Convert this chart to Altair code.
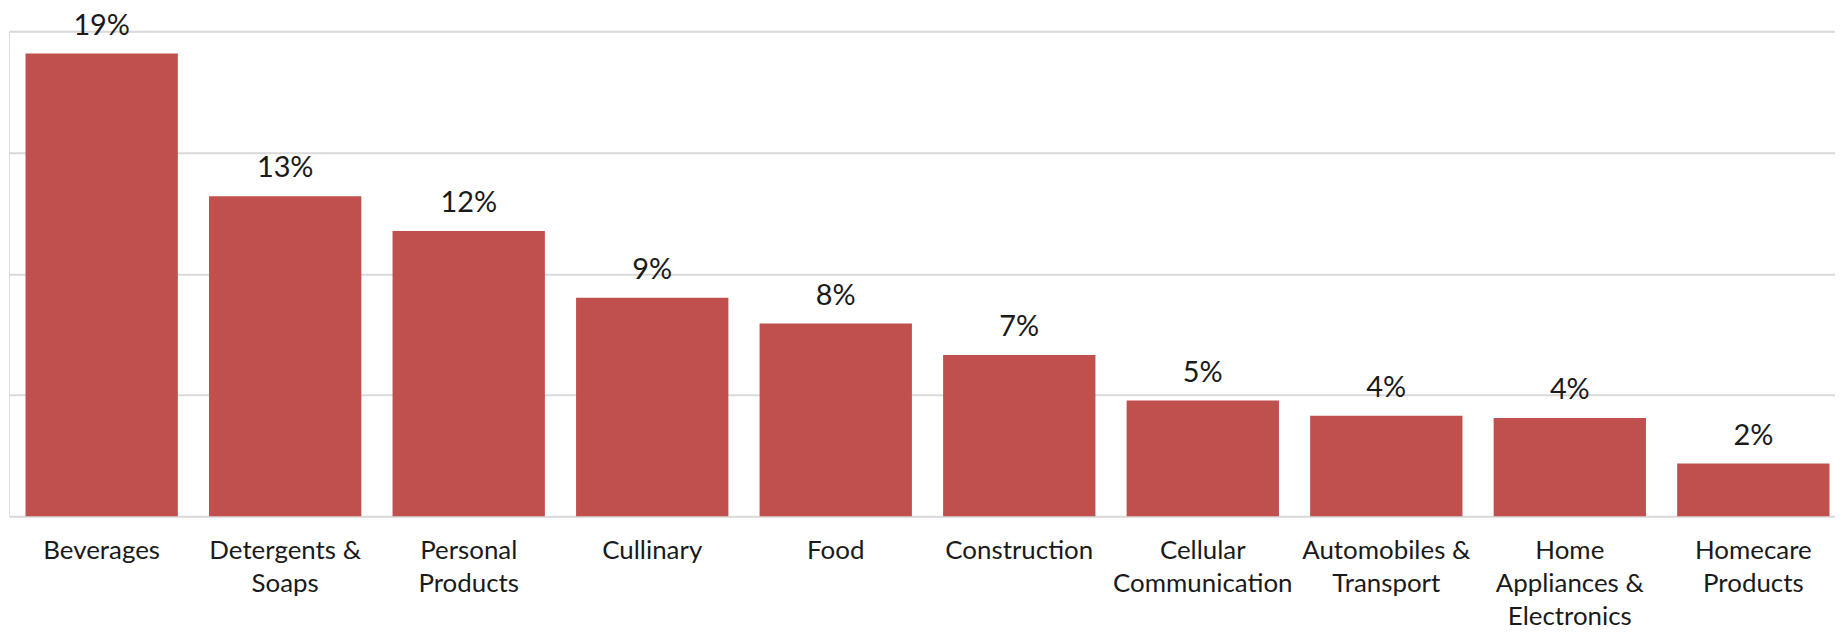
import altair as alt
import pandas as pd

categories = ["Beverages", "Detergents &|Soaps", "Personal|Products", "Cullinary", "Food",
              "Construction", "Cellular|Communication", "Automobiles &|Transport",
              "Home|Appliances &|Electronics", "Homecare|Products"]
shares = [0.1908, 0.1320, 0.1176, 0.0901, 0.0795, 0.0665, 0.0477, 0.0414, 0.0405, 0.0217]
grid_values = [0, 0.05, 0.10, 0.15, 0.20]

df = pd.DataFrame({"category": categories, "share": shares})

FONT = "Lato"
TEXT = "#1a1a1a"

x = alt.X("category:N", sort=categories, title=None,
          scale=alt.Scale(paddingInner=0.17, paddingOuter=0.06, align=0.75),
          axis=alt.Axis(labelAngle=0, domain=False, ticks=False, labelPadding=22,
                        labelFont=FONT, labelFontSize=26, labelColor=TEXT,
                        labelLineHeight=33, labelBaseline="top", labelLimit=0,
                        labelExpr="split(datum.label, '|')"))
y = alt.Y("share:Q", title=None,
          scale=alt.Scale(domain=[0, 0.2], nice=False),
          axis=alt.Axis(values=grid_values, labels=False, ticks=False, domain=False,
                        grid=True, gridColor="#d9d9d9", gridWidth=2))

bars = alt.Chart(df).mark_bar(color="#C0504D").encode(x=x, y=y)
labels = alt.Chart(df).mark_text(font=FONT, fontSize=29, color=TEXT,
                                 baseline="alphabetic", dy=-19).encode(
    x=alt.X("category:N", sort=categories),
    y="share:Q",
    text=alt.Text("share:Q", format=".0%"))

chart = (bars + labels).properties(
    width=1834, height=487,
    autosize=alt.AutoSizeParams(type="none"),
    padding={"left": 1, "top": 22, "right": 0, "bottom": 125},
).configure_view(stroke=None).configure(background="white")

chart.save("out.html", embed_options={"renderer": "svg", "actions": False})
